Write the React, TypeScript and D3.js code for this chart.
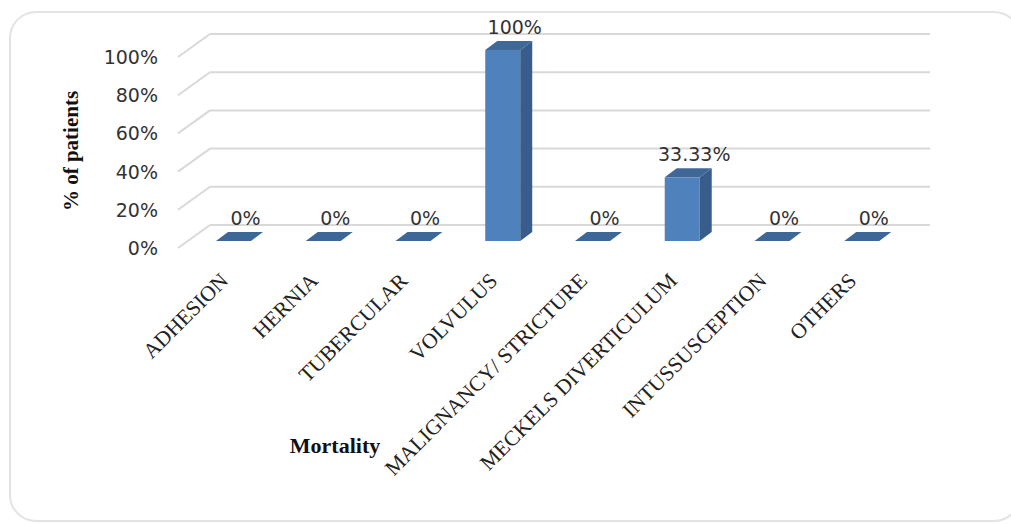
import React from "react";
import * as d3 from "d3";

const categories = [
  "ADHESION",
  "HERNIA",
  "TUBERCULAR",
  "VOLVULUS",
  "MALIGNANCY/ STRICTURE",
  "MECKELS DIVERTICULUM",
  "INTUSSUSCEPTION",
  "OTHERS",
];
const values = [0, 0, 0, 100, 0, 33.33, 0, 0];
const valueLabels = ["0%", "0%", "0%", "100%", "0%", "33.33%", "0%", "0%"];
const yTicks = [0, 20, 40, 60, 80, 100];
const yTickLabels = ["0%", "20%", "40%", "60%", "80%", "100%"];

export default function App() {
  const W = 1011;
  const H = 524;
  const x = d3.scaleBand<string>().domain(categories).range([188.6, 906.6]);
  const y = d3.scaleLinear().domain([0, 100]).range([241, 50]);
  const barW = 35;
  const dx = 12;
  const dy = -9;
  const backOff = -16;
  const frontOff = 7;
  const gridBackX0 = 210;
  const gridBackX1 = 930;
  const gridFrontX = 178;

  return (
    <svg
      width={W}
      height={H}
      style={{ position: "absolute", left: 0, top: 0, display: "block", background: "#fff" }}
    >
      <rect x={10} y={12} width={1010} height={509} rx={26} ry={26} fill="#fff" stroke="#e3e3e3" strokeWidth={2} />
      {yTicks.map((t, i) => {
        const yb = y(t) + backOff;
        const yf = y(t) + frontOff;
        return (
          <g key={"g" + i}>
            <line x1={gridBackX0} x2={gridBackX1} y1={yb} y2={yb} stroke="#d9d9d9" strokeWidth={2} />
            <line x1={gridFrontX} x2={gridBackX0} y1={yf} y2={yb} stroke="#d9d9d9" strokeWidth={2} />
            <text
              x={158}
              y={yf}
              textAnchor="end"
              dominantBaseline="central"
              fontFamily="DejaVu Sans"
              fontSize={19}
              fill="#333"
            >
              {yTickLabels[i]}
            </text>
          </g>
        );
      })}
      {categories.map((c, i) => {
        const cx = (x(c) as number) + x.bandwidth() / 2;
        const x0 = cx - barW / 2;
        const x1 = cx + barW / 2;
        const yb = y(0);
        const yt = y(values[i]);
        const top = `M${x0},${yt} L${x1},${yt} L${x1 + dx},${yt + dy} L${x0 + dx},${yt + dy} Z`;
        const side = `M${x1},${yt} L${x1 + dx},${yt + dy} L${x1 + dx},${yb + dy} L${x1},${yb} Z`;
        return (
          <g key={c}>
            {values[i] > 0 && <rect x={x0} y={yt} width={barW} height={yb - yt} fill="#4f81bd" />}
            {values[i] > 0 && <path d={side} fill="#385d8a" />}
            <path d={top} fill={values[i] > 0 ? "#3f6897" : "#3d6796"} />
            <text
              x={cx + 12}
              y={yt + dy - 7}
              textAnchor="middle"
              fontFamily="DejaVu Sans"
              fontSize={19}
              fill="#333"
            >
              {valueLabels[i]}
            </text>
            <text
              transform={`translate(${cx - 4},${282}) rotate(-45)`}
              textAnchor="end"
              fontFamily="Liberation Serif"
              fontSize={21.5}
              fill="#222"
            >
              {c}
            </text>
          </g>
        );
      })}
      <text
        transform={`translate(78,151) rotate(-90)`}
        textAnchor="middle"
        fontFamily="Liberation Serif"
        fontWeight="bold"
        fontSize={21}
        fill="#111"
      >
        % of patients
      </text>
      <text x={335} y={453} textAnchor="middle" fontFamily="Liberation Serif" fontWeight="bold" fontSize={22} fill="#111">
        Mortality
      </text>
    </svg>
  );
}
